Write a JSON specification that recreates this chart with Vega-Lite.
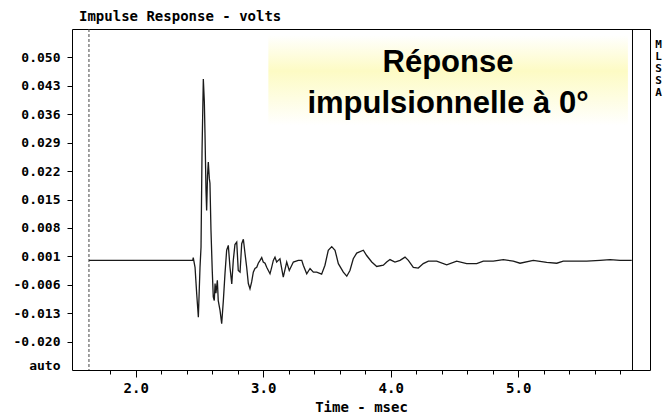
{
  "$schema": "https://vega.github.io/schema/vega-lite/v6.json",
  "autosize": "none",
  "width": 578,
  "height": 341,
  "padding": {"left": 72, "top": 29, "right": 14, "bottom": 46},
  "background": "white",
  "config": {"view": {"stroke": "black", "strokeWidth": 1}, "axis": {"labelOverlap": false, "labelFlush": false, "grid": false, "domain": false, "tickCount": 100}},
  "title": {"text": "Impulse Response - volts", "anchor": "start", "frame": "group", "dx": 7, "offset": 5, "font": "DejaVu Sans Mono", "fontSize": 14, "fontWeight": "bold", "color": "black"},
  "datasets": {
    "wave": [
      {"t": 1.633, "v": 0.0}, {"t": 2.447, "v": 0.0}, {"t": 2.451, "v": 0.0007}, {"t": 2.465, "v": -0.0017},
      {"t": 2.478, "v": -0.0082}, {"t": 2.491, "v": -0.0140}, {"t": 2.504, "v": -0.0017}, {"t": 2.512, "v": 0.0033},
      {"t": 2.520, "v": 0.0271}, {"t": 2.530, "v": 0.0447}, {"t": 2.538, "v": 0.0390}, {"t": 2.543, "v": 0.0313},
      {"t": 2.551, "v": 0.0172}, {"t": 2.556, "v": 0.0123}, {"t": 2.563, "v": 0.0209}, {"t": 2.569, "v": 0.0242},
      {"t": 2.577, "v": 0.0202}, {"t": 2.582, "v": 0.0190}, {"t": 2.590, "v": 0.0074}, {"t": 2.600, "v": -0.0025},
      {"t": 2.608, "v": -0.0090}, {"t": 2.616, "v": -0.0099}, {"t": 2.622, "v": -0.0057}, {"t": 2.629, "v": -0.0081},
      {"t": 2.640, "v": -0.0049}, {"t": 2.647, "v": -0.0099}, {"t": 2.661, "v": -0.0123}, {"t": 2.674, "v": -0.0156},
      {"t": 2.687, "v": -0.0099}, {"t": 2.700, "v": -0.0032}, {"t": 2.713, "v": 0.0025}, {"t": 2.726, "v": 0.0037},
      {"t": 2.739, "v": -0.0017}, {"t": 2.753, "v": -0.0058}, {"t": 2.765, "v": 0.0}, {"t": 2.778, "v": 0.0039},
      {"t": 2.792, "v": 0.0045}, {"t": 2.804, "v": -0.0025}, {"t": 2.818, "v": -0.0029}, {"t": 2.831, "v": 0.0041},
      {"t": 2.844, "v": 0.0052}, {"t": 2.857, "v": 0.0017}, {"t": 2.870, "v": -0.0017}, {"t": 2.883, "v": -0.0057},
      {"t": 2.896, "v": -0.0070}, {"t": 2.909, "v": -0.0053}, {"t": 2.922, "v": -0.0029}, {"t": 2.935, "v": -0.0020},
      {"t": 2.949, "v": -0.0017}, {"t": 2.961, "v": -0.0007}, {"t": 2.975, "v": 0.0}, {"t": 2.988, "v": 0.0007},
      {"t": 3.000, "v": -0.0004}, {"t": 3.014, "v": -0.0007}, {"t": 3.027, "v": -0.0017}, {"t": 3.040, "v": -0.0025},
      {"t": 3.053, "v": -0.0033}, {"t": 3.066, "v": -0.0017}, {"t": 3.079, "v": 0.0}, {"t": 3.092, "v": 0.0008},
      {"t": 3.105, "v": -0.0004}, {"t": 3.118, "v": 0.0}, {"t": 3.131, "v": 0.0004}, {"t": 3.157, "v": -0.0041},
      {"t": 3.184, "v": -0.0004}, {"t": 3.204, "v": -0.0025}, {"t": 3.236, "v": -0.0004}, {"t": 3.275, "v": 0.0},
      {"t": 3.302, "v": 0.0}, {"t": 3.314, "v": -0.0012}, {"t": 3.341, "v": -0.0033}, {"t": 3.367, "v": -0.0020},
      {"t": 3.393, "v": -0.0029}, {"t": 3.419, "v": -0.0029}, {"t": 3.458, "v": -0.0034}, {"t": 3.484, "v": -0.0012},
      {"t": 3.510, "v": 0.0025}, {"t": 3.537, "v": 0.0034}, {"t": 3.563, "v": 0.0025}, {"t": 3.589, "v": -0.0008},
      {"t": 3.628, "v": -0.0029}, {"t": 3.655, "v": -0.0039}, {"t": 3.680, "v": -0.0025}, {"t": 3.706, "v": 0.0004},
      {"t": 3.733, "v": 0.0018}, {"t": 3.785, "v": 0.0025}, {"t": 3.811, "v": 0.0012}, {"t": 3.851, "v": -0.0004},
      {"t": 3.890, "v": -0.0015}, {"t": 3.942, "v": -0.0012}, {"t": 3.968, "v": -0.0004}, {"t": 3.994, "v": 0.0002},
      {"t": 4.033, "v": -0.0004}, {"t": 4.073, "v": 0.0}, {"t": 4.112, "v": 0.0008}, {"t": 4.138, "v": 0.0},
      {"t": 4.177, "v": -0.0017}, {"t": 4.216, "v": -0.0019}, {"t": 4.255, "v": -0.0008}, {"t": 4.295, "v": -0.0002},
      {"t": 4.360, "v": -0.0002}, {"t": 4.439, "v": -0.0011}, {"t": 4.517, "v": -0.0002}, {"t": 4.596, "v": -0.0008},
      {"t": 4.674, "v": -0.0008}, {"t": 4.726, "v": -0.0002}, {"t": 4.804, "v": -0.0002}, {"t": 4.883, "v": 0.0002},
      {"t": 4.961, "v": -0.0002}, {"t": 5.014, "v": -0.0007}, {"t": 5.118, "v": 0.0}, {"t": 5.223, "v": -0.0005},
      {"t": 5.302, "v": -0.0007}, {"t": 5.353, "v": -0.0002}, {"t": 5.432, "v": -0.0002}, {"t": 5.537, "v": -0.0002},
      {"t": 5.641, "v": 0.0}, {"t": 5.720, "v": 0.0002}, {"t": 5.798, "v": 0.0}, {"t": 5.890, "v": 0.0}
    ],
    "one": [{"k": 1}]
  },
  "layer": [
    {
      "data": {"name": "wave"},
      "mark": {"type": "line", "color": "#1a1a1a", "strokeWidth": 1.3, "interpolate": "linear"},
      "encoding": {
        "x": {
          "field": "t", "type": "quantitative",
          "scale": {"domain": [1.5, 6.0333], "nice": false, "zero": false},
          "axis": {
            "values": [1.8, 2.0, 2.2, 2.4, 2.6, 2.8, 3.0, 3.2, 3.4, 3.6, 3.8, 4.0, 4.2, 4.4, 4.6, 4.8, 5.0, 5.2, 5.4, 5.6, 5.8],
            "tickCount": 100,
            "labelExpr": "abs(datum.value - round(datum.value)) < 0.01 ? format(datum.value, '.1f') : ''",
            "tickSize": {"condition": {"test": "abs(datum.value - round(datum.value)) < 0.01", "value": 7}, "value": 4},
            "tickColor": "black",
            "labelFont": "DejaVu Sans Mono", "labelFontWeight": "bold", "labelFontSize": 14, "labelColor": "black",
            "labelPadding": 4, "labelOverlap": false,
            "title": "Time - msec", "titleFont": "DejaVu Sans Mono", "titleFontWeight": "bold", "titleFontSize": 14, "titleColor": "black", "titlePadding": 5
          }
        },
        "y": {
          "field": "v", "type": "quantitative",
          "scale": {"domain": [-0.027, 0.057], "nice": false, "zero": false},
          "axis": {
            "values": [-0.0258, -0.020, -0.013, -0.006, 0.001, 0.008, 0.015, 0.022, 0.029, 0.036, 0.043, 0.050],
            "tickCount": 100,
            "labelExpr": "datum.value < -0.025 ? 'auto' : (datum.value < 0 ? '-' : '') + format(abs(datum.value), '.3f')",
            "tickSize": 5,
            "tickColor": {"condition": {"test": "datum.value < -0.025", "value": "transparent"}, "value": "black"},
            "labelFont": "DejaVu Sans Mono", "labelFontWeight": "bold", "labelFontSize": 13, "labelColor": "black",
            "labelPadding": 7, "labelOverlap": false,
            "title": null
          }
        }
      }
    },
    {
      "data": {"name": "one"},
      "mark": {"type": "rect", "fill": {"gradient": "linear", "x1": 0, "y1": 0, "x2": 0, "y2": 1, "stops": [{"offset": 0, "color": "#ffffff"}, {"offset": 0.4, "color": "#fdfbc4"}, {"offset": 1, "color": "#ffffff"}]}},
      "encoding": {
        "x": {"datum": 3.04, "type": "quantitative"},
        "x2": {"datum": 5.86},
        "y": {"datum": 0.0555, "type": "quantitative"},
        "y2": {"datum": 0.0333}
      }
    },
    {
      "data": {"name": "one"},
      "mark": {"type": "text", "text": ["Réponse", "impulsionnelle à 0°"], "font": "Liberation Sans", "fontSize": 31, "fontWeight": "bold", "align": "center", "baseline": "alphabetic", "lineHeight": 41.6, "color": "black"},
      "encoding": {
        "x": {"datum": 4.449, "type": "quantitative"},
        "y": {"datum": 0.0465, "type": "quantitative"}
      }
    },
    {
      "data": {"name": "one"},
      "mark": {"type": "rule", "strokeDash": [3, 2], "color": "#444", "strokeWidth": 1},
      "encoding": {"x": {"datum": 1.633, "type": "quantitative"}}
    },
    {
      "data": {"name": "one"},
      "mark": {"type": "rule", "color": "black", "strokeWidth": 1},
      "encoding": {"x": {"datum": 5.896, "type": "quantitative"}}
    },
    {
      "data": {"name": "one"},
      "mark": {"type": "text", "text": ["M", "L", "S", "S", "A"], "font": "DejaVu Sans Mono", "fontSize": 11, "fontWeight": "bold", "align": "left", "baseline": "top", "lineHeight": 12, "color": "black"},
      "encoding": {
        "x": {"datum": 6.075, "type": "quantitative"},
        "y": {"datum": 0.0545, "type": "quantitative"}
      }
    }
  ]
}
